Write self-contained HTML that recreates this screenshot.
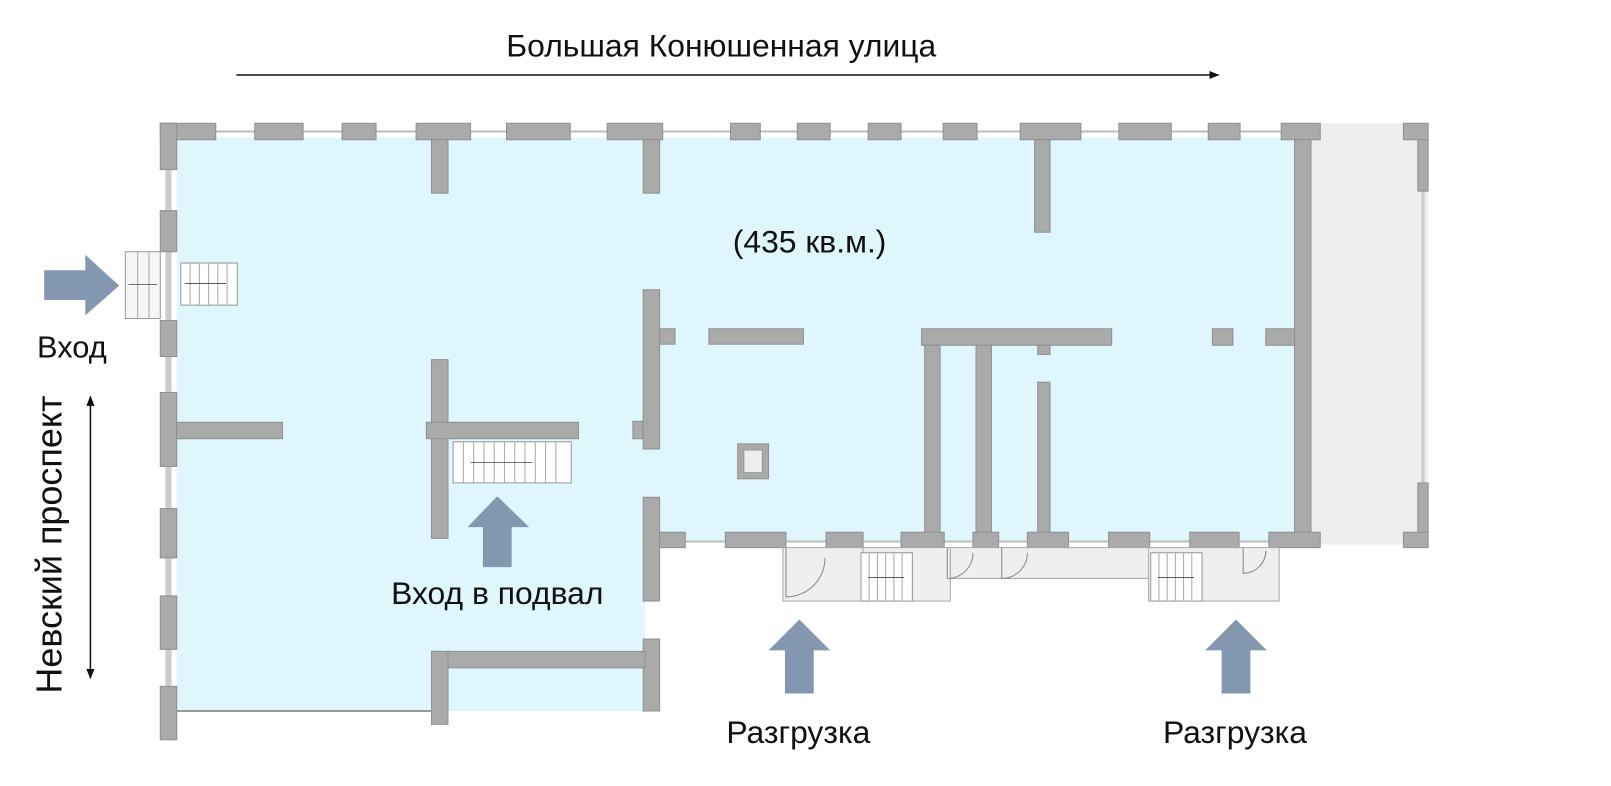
<!DOCTYPE html>
<html><head><meta charset="utf-8"><style>
html,body{margin:0;padding:0;background:#fff;}
svg{display:block;}
text{font-family:"Liberation Sans","DejaVu Sans",sans-serif;fill:#111;}
</style></head><body>
<svg width="1611" height="786" viewBox="0 0 1568 765" preserveAspectRatio="none" xmlns="http://www.w3.org/2000/svg">
<defs>
<marker id="ah" markerWidth="10" markerHeight="10" refX="9" refY="5" orient="auto-start-reverse" markerUnits="userSpaceOnUse"><path d="M0,1 L10,5 L0,9 Z" fill="#111"/></marker>
</defs>
<rect x="172" y="134" width="1090" height="392" fill="#dff6fc"/>
<rect x="172" y="520" width="456" height="172" fill="#dff6fc"/>
<rect x="1276" y="120" width="114" height="410" fill="#eeeeee"/>
<line x1="156" y1="128" x2="1285" y2="128" stroke="#bbb" stroke-width="2"/>
<line x1="164" y1="120" x2="164" y2="720" stroke="#ccc" stroke-width="6"/>
<line x1="642" y1="527" x2="1285" y2="527" stroke="#bbb" stroke-width="2"/>
<line x1="1385" y1="120" x2="1385" y2="533" stroke="#ccc" stroke-width="3"/>
<g fill="#aaaaaa" stroke="#909090" stroke-width="1">
<rect x="156" y="120" width="54" height="16"/>
<rect x="248" y="120" width="47" height="16"/>
<rect x="333" y="120" width="33" height="16"/>
<rect x="405" y="120" width="53" height="16"/>
<rect x="420" y="136" width="16" height="52"/>
<rect x="493" y="120" width="62" height="16"/>
<rect x="591" y="120" width="54" height="16"/>
<rect x="626" y="136" width="16" height="52"/>
<rect x="711" y="120" width="29" height="16"/>
<rect x="776" y="120" width="32" height="16"/>
<rect x="845" y="120" width="32" height="16"/>
<rect x="918" y="120" width="33" height="16"/>
<rect x="993" y="120" width="59" height="16"/>
<rect x="1007" y="136" width="15" height="90"/>
<rect x="1089" y="120" width="51" height="16"/>
<rect x="1176" y="120" width="31" height="16"/>
<rect x="1247" y="120" width="38" height="16"/>
<rect x="1366" y="120" width="24" height="16"/>
<rect x="1380" y="136" width="10" height="50"/>
<rect x="1260" y="136" width="16" height="394"/>
<rect x="1366" y="518" width="24" height="15"/>
<rect x="1380" y="470" width="10" height="48"/>
<rect x="156" y="120" width="16" height="45"/>
<rect x="156" y="205" width="16" height="40"/>
<rect x="156" y="312" width="16" height="35"/>
<rect x="156" y="382" width="16" height="72"/>
<rect x="156" y="495" width="16" height="48"/>
<rect x="156" y="580" width="16" height="52"/>
<rect x="156" y="668" width="16" height="52"/>
<rect x="172" y="411" width="103" height="16"/>
<rect x="420" y="350" width="16" height="174"/>
<rect x="415" y="411" width="148" height="16"/>
<rect x="626" y="282" width="16" height="155"/>
<rect x="642" y="320" width="15" height="15"/>
<rect x="616" y="410" width="10" height="17"/>
<rect x="626" y="484" width="16" height="101"/>
<rect x="626" y="622" width="16" height="70"/>
<rect x="420" y="634" width="208" height="16"/>
<rect x="420" y="634" width="16" height="71"/>
<rect x="690" y="320" width="92" height="15"/>
<rect x="897" y="320" width="185" height="16"/>
<rect x="900" y="336" width="15" height="184"/>
<rect x="950" y="336" width="15" height="184"/>
<rect x="1010" y="336" width="12" height="9"/>
<rect x="1010" y="372" width="12" height="148"/>
<rect x="1180" y="320" width="20" height="16"/>
<rect x="1232" y="320" width="28" height="16"/>
<rect x="718" y="432" width="30" height="34"/>
<rect x="642" y="518" width="25" height="15"/>
<rect x="706" y="518" width="59" height="15"/>
<rect x="804" y="518" width="36" height="15"/>
<rect x="877" y="518" width="42" height="15"/>
<rect x="947" y="518" width="25" height="15"/>
<rect x="1000" y="518" width="40" height="15"/>
<rect x="1079" y="518" width="40" height="15"/>
<rect x="1158" y="518" width="48" height="15"/>
<rect x="1235" y="518" width="50" height="15"/>
</g>
<rect x="724" y="438" width="18" height="22" fill="#eee" stroke="#999"/>
<line x1="172" y1="692" x2="420" y2="692" stroke="#999" stroke-width="2"/>
<g fill="#efefef" stroke="#aaa" stroke-width="1">
<rect x="762" y="533" width="78" height="52"/>
<rect x="840" y="533" width="85" height="52"/>
<rect x="925" y="533" width="195" height="30"/>
<rect x="1118" y="533" width="127" height="52"/>
</g>
<path d="M765 533 v48 a38 38 0 0 0 38 -38" fill="none" stroke="#888"/>
<path d="M922 533 v30 a25 25 0 0 0 25 -25" fill="none" stroke="#888"/>
<path d="M975 533 v30 a25 25 0 0 0 25 -25" fill="none" stroke="#888"/>
<path d="M1210 533 v25 a22 22 0 0 0 22 -22" fill="none" stroke="#888"/>
<g fill="#fff" stroke="#999" stroke-width="1">
<rect x="441" y="430" width="115" height="40"/>
<rect x="176" y="256" width="55" height="41"/>
<rect x="122" y="245" width="34" height="65" fill="#f6f6f6"/>
<rect x="838" y="538" width="50" height="47"/>
<rect x="1120" y="538" width="50" height="47"/>
</g>
<g stroke="#aaa" stroke-width="1">
<path d="M451 430v40M461 430v40M471 430v40M481 430v40M491 430v40M501 430v40M511 430v40M521 430v40M531 430v40M541 430v40"/>
<path d="M185 256v41M194 256v41M203 256v41M212 256v41M221 256v41"/>
<path d="M134 245v65M145 245v65"/>
<path d="M846 538v47M854 538v47M862 538v47M870 538v47M878 538v47"/>
<path d="M1128 538v47M1136 538v47M1144 538v47M1152 538v47M1160 538v47"/>
</g>
<g stroke="#444" stroke-width="0.8" fill="none">
<path d="M458 450h60"/><path d="M180 276h40"/><path d="M845 562h35"/><path d="M1127 562h35"/><path d="M125 277h28"/>
</g>
<g fill="#8497b0">
<polygon points="43,263 83,263 83,248 116,278 83,307 83,292 43,292"/>
<polygon points="455,513 484,483 515,513 498,513 498,552 470,552 470,513"/>
<polygon points="748,633 778,603 808,633 792,633 792,675 764,675 764,633"/>
<polygon points="1173,633 1203,603 1233,633 1217,633 1217,675 1189,675 1189,633"/>
</g>
<line x1="230" y1="73" x2="1186" y2="73" stroke="#111" stroke-width="1.5" marker-end="url(#ah)"/>
<line x1="88" y1="386" x2="88" y2="660" stroke="#111" stroke-width="1.5" marker-start="url(#ah)" marker-end="url(#ah)"/>
<text x="702" y="55" font-size="31" text-anchor="middle">Большая Конюшенная улица</text>
<text x="788" y="246" font-size="31" text-anchor="middle">(435 кв.м.)</text>
<text x="70" y="348" font-size="30" text-anchor="middle">Вход</text>
<text x="484" y="588" font-size="31" text-anchor="middle">Вход в подвал</text>
<text x="777" y="723" font-size="31" text-anchor="middle">Разгрузка</text>
<text x="1202" y="723" font-size="31" text-anchor="middle">Разгрузка</text>
<text transform="translate(60,530) rotate(-90)" font-size="35" text-anchor="middle">Невский проспект</text>
</svg>
</body></html>
